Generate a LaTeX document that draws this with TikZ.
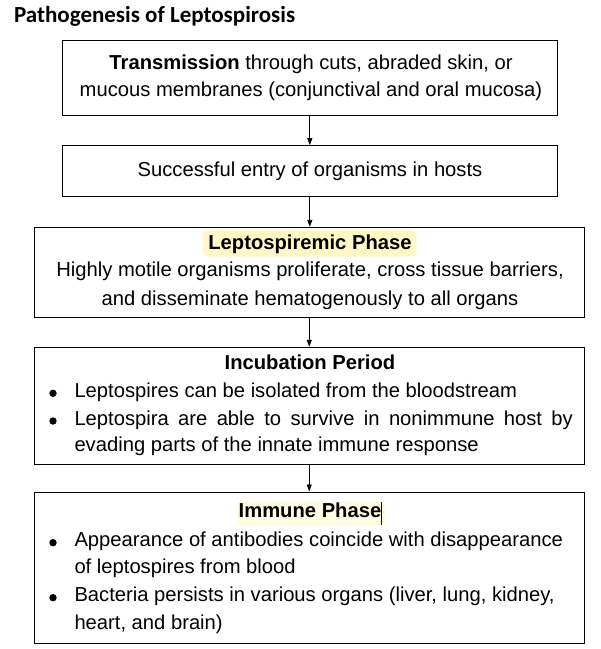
\documentclass[tikz,border=0pt]{standalone}
\usepackage{fontspec}
\setmainfont{Liberation Sans}
\newfontfamily\titlefont{Carlito}
\usetikzlibrary{arrows.meta}
\definecolor{hlA}{RGB}{255,248,198}
\definecolor{hlB}{RGB}{255,251,226}
\begin{document}
\begin{tikzpicture}[x=1pt,y=-1pt,
  flowbox/.style={draw=black, line width=1pt, inner sep=0pt},
  txt/.style={anchor=base, inner sep=0pt, font=\fontsize{20.2}{24}\selectfont},
  ltxt/.style={anchor=base west, inner sep=0pt, font=\fontsize{20.2}{24}\selectfont},
  arr/.style={line width=0.9pt, -{Triangle[length=7pt,width=5pt]}},
  bul/.style={circle, fill=black, inner sep=0pt, minimum size=7.4pt},
  hl/.style={rounded corners=6pt, fill=#1}]
\useasboundingbox (0,0) rectangle (601,649);

% title
\node[anchor=base west, inner sep=0pt, font=\titlefont\bfseries\fontsize{23}{27}\selectfont] (title) at (14,22.7) {Pathogenesis of Leptospirosis};

% boxes
\node[flowbox, minimum width=495pt, minimum height=74.3pt] (b1) at (309.8,77.85) {};
\node[flowbox, minimum width=495pt, minimum height=51pt] (b2) at (309.8,171.2) {};
\node[flowbox, minimum width=549.9pt, minimum height=90pt] (b3) at (309.25,272.3) {};
\node[flowbox, minimum width=549.9pt, minimum height=117pt] (b4) at (309.25,405.8) {};
\node[flowbox, minimum width=549.9pt, minimum height=151pt] (b5) at (309.25,567.5) {};

% connectors
\draw[arr] (b1.south) -- (b1.south |- b2.north);
\draw[arr] (b2.south) -- (b2.south |- b3.north);
\draw[arr] (b3.south) -- (b3.south |- b4.north);
\draw[arr] (b4.south) -- (b4.south |- b5.north);

% highlights
\path[hl=hlA] (202.7,230) rectangle (416.7,256.5);
\path[hl=hlB] (237.5,501.5) rectangle (385,525);
\draw[line width=1pt] (381.5,502) -- (381.5,525);

% box 1
\node[txt] (t1a) at (311,69.3) {\textbf{Transmission} through cuts, abraded skin, or};
\node[txt] (t1b) at (311,96.7) {mucous membranes (conjunctival and oral mucosa)};
% box 2
\node[txt] (t2) at (310,176.7) {Successful entry of organisms in hosts};
% box 3
\node[txt] (t3h) at (310,249.3) {\textbf{Leptospiremic Phase}};
\node[txt] (t3a) at (310,276.7) {Highly motile organisms proliferate, cross tissue barriers,};
\node[txt] (t3b) at (310,305) {and disseminate hematogenously to all organs};
% box 4
\node[txt] (t4h) at (310,369.3) {\textbf{Incubation Period}};
\node[bul] (d4a) at (53,393.3) {};
\node[ltxt] (t4a) at (74.3,397.3) {Leptospires can be isolated from the bloodstream};
\node[bul] (d4b) at (53,421) {};
\node[ltxt] (t4b) at (74.3,425) {\makebox[498.4pt][s]{Leptospira are able to survive in nonimmune host by}};
\node[ltxt] (t4c) at (74.3,451.7) {evading parts of the innate immune response};
% box 5
\node[txt] (t5h) at (310,517.3) {\textbf{Immune Phase}};
\node[bul] (d5a) at (53,542.7) {};
\node[ltxt] (t5a) at (74.3,546.7) {Appearance of antibodies coincide with disappearance};
\node[ltxt] (t5b) at (74.3,573.3) {of leptospires from blood};
\node[bul] (d5b) at (53,597.7) {};
\node[ltxt] (t5c) at (74.3,601.7) {Bacteria persists in various organs (liver, lung, kidney,};
\node[ltxt] (t5d) at (74.3,629.3) {heart, and brain)};
\end{tikzpicture}
\end{document}
